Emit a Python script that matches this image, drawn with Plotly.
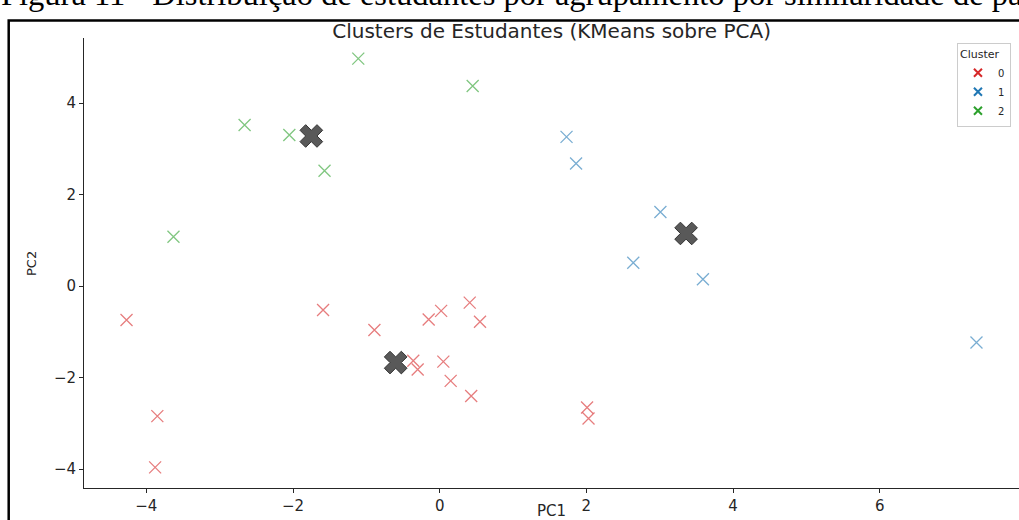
import plotly.graph_objects as go

# ---- data ----
clusters = ["0", "1", "2"]
pc1_c0 = [-4.27, -3.85, -3.88, -1.59, -0.89, -0.15, 0.02, 0.41, 0.55, -0.36, -0.30, 0.05, 0.15, 0.43, 2.01, 2.03]
pc2_c0 = [-0.74, -2.84, -3.96, -0.52, -0.96, -0.73, -0.54, -0.36, -0.78, -1.63, -1.82, -1.65, -2.07, -2.40, -2.65, -2.89]
pc1_c1 = [1.73, 1.86, 3.01, 2.64, 3.59, 7.32]
pc2_c1 = [3.26, 2.68, 1.62, 0.51, 0.15, -1.23]
pc1_c2 = [-1.11, 0.45, -2.66, -2.05, -1.57, -3.63]
pc2_c2 = [4.97, 4.37, 3.52, 3.30, 2.52, 1.08]
centroid_pc1 = [-0.60, 3.36, -1.75]
centroid_pc2 = [-1.67, 1.15, 3.28]
xticks = [-4, -2, 0, 2, 4, 6]
yticks = [-4, -2, 0, 2, 4]

point_colors = ["rgba(214,39,40,0.6)", "rgba(31,119,180,0.6)", "rgba(44,160,44,0.6)"]
legend_colors = ["#d62728", "#1f77b4", "#2ca02c"]

fig = go.Figure()
series = [(pc1_c0, pc2_c0), (pc1_c1, pc2_c1), (pc1_c2, pc2_c2)]
for (xs, ys), col in zip(series, point_colors):
    fig.add_trace(go.Scatter(
        x=xs, y=ys, mode="markers", showlegend=False, hoverinfo="skip",
        marker=dict(symbol="x-thin", size=12, color=col, line=dict(color=col, width=1.3)),
    ))

# legend-only entries (full colour like matplotlib legend)
for name, col in zip(clusters, legend_colors):
    fig.add_trace(go.Scatter(
        x=[None], y=[None], mode="markers", name=name,
        marker=dict(symbol="x-thin", size=8, color=col, line=dict(color=col, width=2)),
    ))

fig.add_trace(go.Scatter(
    x=centroid_pc1, y=centroid_pc2, mode="markers", showlegend=False, hoverinfo="skip",
    marker=dict(symbol="x", size=20, color="rgba(60,60,60,0.85)", line=dict(color="#333333", width=1)),
))

font_main = "DejaVu Sans, Verdana, sans-serif"

fig.update_layout(
    width=1019, height=520, autosize=False,
    margin=dict(l=84, r=0, t=38, b=32),
    paper_bgcolor="white", plot_bgcolor="white",
    font=dict(family=font_main, size=15, color="#262626"),
    title=dict(text="Clusters de Estudantes (KMeans sobre PCA)", x=0.5413, xanchor="center",
               y=1 - 31 / 520, yanchor="middle", yref="container",
               font=dict(family=font_main, size=20, color="#262626")),
    xaxis=dict(range=[-4.85, 7.90], tickvals=xticks, ticks="outside", ticklen=4, tickcolor="#262626",
               showline=True, linecolor="#262626", linewidth=1, showgrid=False, zeroline=False,
               tickfont=dict(size=15)),
    yaxis=dict(range=[-4.41, 5.42], tickvals=yticks, ticks="outside", ticklen=4, tickcolor="#262626",
               showline=True, linecolor="#262626", linewidth=1, showgrid=False, zeroline=False,
               tickfont=dict(size=15)),
    legend=dict(title=dict(text="Cluster", side="top", font=dict(size=11)),
                x=0.9914, xanchor="right", y=0.989, yanchor="top",
                bgcolor="white", bordercolor="#cccccc", borderwidth=1,
                font=dict(size=10), itemwidth=30, tracegroupgap=0),
    shapes=[dict(type="rect", xref="paper", yref="paper",
                 x0=(8.7 - 84) / 935, x1=1.2, y0=-0.3, y1=(488 - 20.5) / 450,
                 line=dict(color="black", width=2.5), fillcolor="rgba(0,0,0,0)", layer="above")],
    annotations=[
        dict(text="PC1", xref="paper", yref="paper", x=0.5, y=(488 - 511) / 450,
             xanchor="center", yanchor="middle", showarrow=False, font=dict(size=15)),
        dict(text="PC2", xref="paper", yref="paper", x=(31 - 84) / 935, y=(488 - 264) / 450,
             xanchor="center", yanchor="middle", showarrow=False, textangle=-90, font=dict(size=13)),
        dict(text="Figura 11 - Distribuição de estudantes por agrupamento por similaridade de padrões",
             xref="paper", yref="paper", x=(-1 - 84) / 935, y=(488 - 14) / 450,
             xanchor="left", yanchor="bottom", showarrow=False,
             font=dict(family="Liberation Serif, Times New Roman, serif", size=32.5, color="black")),
    ],
)

fig.write_html("out.html", config={"displayModeBar": False},
               post_script="document.body.style.margin='0';document.body.style.overflow='hidden';")
